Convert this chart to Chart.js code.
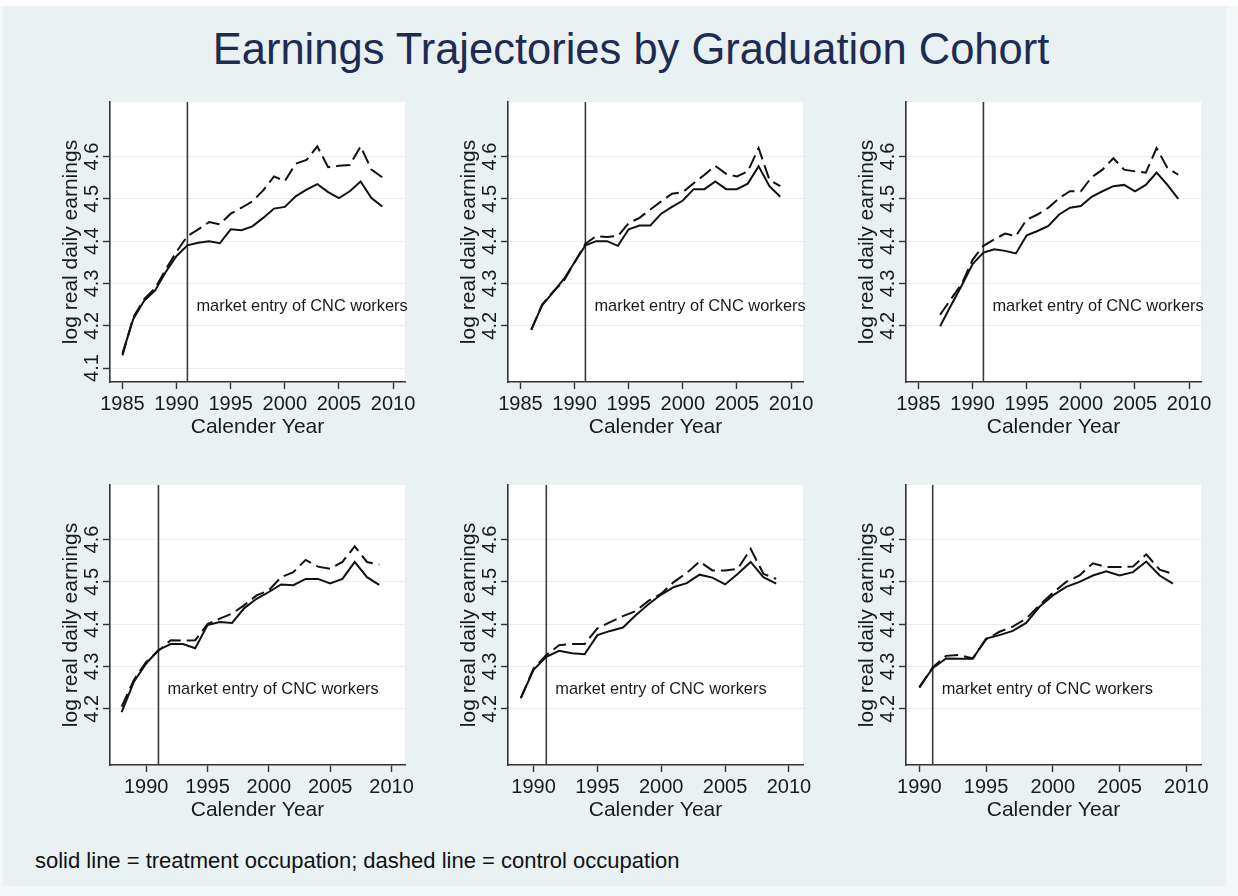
<!DOCTYPE html>
<html>
<head>
<meta charset="utf-8">
<script src="https://cdn.jsdelivr.net/npm/chart.js@4.4.0/dist/chart.umd.min.js"></script>
<style>
  html, body { margin: 0; padding: 0; background: #ffffff; }
  #page { position: relative; width: 1238px; height: 896px; overflow: hidden; background: #f3f7f8; }
  #frame { position: absolute; left: 3px; top: 6px; width: 1223px; height: 880px; background: #e9f1f3; }
  #topstrip { position: absolute; left: 0; top: 0; width: 1238px; height: 6px; background: #ffffff; }
  .panel { position: absolute; }
  #title { position: absolute; left: 0; top: 25px; width: 1262px; text-align: center;
           font-family: "Liberation Sans", Arial, sans-serif; font-size: 43.5px; color: #1e2b52; white-space: nowrap; }
  #note { position: absolute; left: 35px; top: 848px; font-family: "Liberation Sans", Arial, sans-serif;
          font-size: 22px; color: #111; white-space: nowrap; }
</style>
</head>
<body>
<div id="page">
  <div id="topstrip"></div>
  <div id="frame"></div>
  <div id="title">Earnings Trajectories by Graduation Cohort</div>
  <canvas id="c1" class="panel" width="363" height="350" style="left:58px;top:92px"></canvas>
  <canvas id="c2" class="panel" width="363" height="350" style="left:456px;top:92px"></canvas>
  <canvas id="c3" class="panel" width="363" height="350" style="left:854px;top:92px"></canvas>
  <canvas id="c4" class="panel" width="363" height="350" style="left:58px;top:475px"></canvas>
  <canvas id="c5" class="panel" width="363" height="350" style="left:456px;top:475px"></canvas>
  <canvas id="c6" class="panel" width="363" height="350" style="left:854px;top:475px"></canvas>
  <div id="note">solid line = treatment occupation; dashed line = control occupation</div>
</div>
<script>
// cohort data: year, treatment (solid), control (dashed)
const years1 = [1985, 1986, 1987, 1988, 1989, 1990, 1991, 1992, 1993, 1994, 1995, 1996, 1997, 1998, 1999, 2000, 2001, 2002, 2003, 2004, 2005, 2006, 2007, 2008, 2009];
const treat1 = [4.134, 4.216, 4.259, 4.283, 4.327, 4.365, 4.39, 4.396, 4.40, 4.395, 4.428, 4.426, 4.435, 4.455, 4.477, 4.481, 4.506, 4.522, 4.535, 4.516, 4.502, 4.518, 4.541, 4.502, 4.482];
const ctrl1 = [4.13, 4.22, 4.263, 4.288, 4.333, 4.375, 4.412, 4.428, 4.445, 4.44, 4.465, 4.479, 4.494, 4.52, 4.553, 4.542, 4.583, 4.592, 4.624, 4.575, 4.578, 4.58, 4.624, 4.569, 4.551];

const years2 = [1986, 1987, 1988, 1989, 1990, 1991, 1992, 1993, 1994, 1995, 1996, 1997, 1998, 1999, 2000, 2001, 2002, 2003, 2004, 2005, 2006, 2007, 2008, 2009];
const treat2 = [4.191, 4.248, 4.279, 4.31, 4.35, 4.39, 4.40, 4.40, 4.389, 4.428, 4.437, 4.437, 4.465, 4.481, 4.496, 4.523, 4.523, 4.541, 4.523, 4.523, 4.536, 4.577, 4.53, 4.505];
const ctrl2 = [4.19, 4.25, 4.28, 4.306, 4.35, 4.394, 4.412, 4.41, 4.412, 4.443, 4.455, 4.475, 4.494, 4.512, 4.516, 4.537, 4.557, 4.578, 4.559, 4.553, 4.565, 4.62, 4.545, 4.53];

const years3 = [1987, 1988, 1989, 1990, 1991, 1992, 1993, 1994, 1995, 1996, 1997, 1998, 1999, 2000, 2001, 2002, 2003, 2004, 2005, 2006, 2007, 2008, 2009];
const treat3 = [4.199, 4.248, 4.295, 4.346, 4.373, 4.381, 4.377, 4.371, 4.414, 4.424, 4.436, 4.463, 4.479, 4.483, 4.505, 4.518, 4.53, 4.533, 4.518, 4.533, 4.562, 4.533, 4.5];
const ctrl3 = [4.226, 4.263, 4.299, 4.356, 4.389, 4.404, 4.418, 4.412, 4.451, 4.463, 4.479, 4.502, 4.518, 4.518, 4.551, 4.569, 4.596, 4.569, 4.565, 4.562, 4.62, 4.573, 4.557];

const years4 = [1988, 1989, 1990, 1991, 1992, 1993, 1994, 1995, 1996, 1997, 1998, 1999, 2000, 2001, 2002, 2003, 2004, 2005, 2006, 2007, 2008, 2009];
const treat4 = [4.192, 4.264, 4.307, 4.339, 4.353, 4.353, 4.343, 4.398, 4.405, 4.403, 4.438, 4.46, 4.476, 4.494, 4.492, 4.507, 4.507, 4.496, 4.507, 4.547, 4.511, 4.493];
const ctrl4 = [4.205, 4.268, 4.311, 4.337, 4.362, 4.361, 4.362, 4.4, 4.413, 4.425, 4.445, 4.468, 4.48, 4.511, 4.523, 4.552, 4.536, 4.531, 4.547, 4.584, 4.547, 4.541];

const years5 = [1989, 1990, 1991, 1992, 1993, 1994, 1995, 1996, 1997, 1998, 1999, 2000, 2001, 2002, 2003, 2004, 2005, 2006, 2007, 2008, 2009];
const treat5 = [4.225, 4.292, 4.323, 4.337, 4.331, 4.329, 4.374, 4.384, 4.392, 4.421, 4.447, 4.47, 4.488, 4.497, 4.517, 4.51, 4.494, 4.519, 4.547, 4.511, 4.496];
const ctrl5 = [4.225, 4.295, 4.327, 4.35, 4.353, 4.353, 4.39, 4.405, 4.419, 4.431, 4.455, 4.472, 4.5, 4.521, 4.548, 4.527, 4.527, 4.531, 4.578, 4.519, 4.507];

const years6 = [1990, 1991, 1992, 1993, 1994, 1995, 1996, 1997, 1998, 1999, 2000, 2001, 2002, 2003, 2004, 2005, 2006, 2007, 2008, 2009];
const treat6 = [4.251, 4.296, 4.319, 4.318, 4.318, 4.366, 4.374, 4.384, 4.403, 4.441, 4.468, 4.488, 4.5, 4.515, 4.525, 4.515, 4.523, 4.548, 4.515, 4.496];
const ctrl6 = [4.25, 4.298, 4.325, 4.327, 4.319, 4.364, 4.382, 4.394, 4.413, 4.445, 4.474, 4.5, 4.515, 4.544, 4.535, 4.535, 4.536, 4.565, 4.529, 4.519];

const xTicksTop = [1985, 1990, 1995, 2000, 2005, 2010];
const xTicksBottom = [1990, 1995, 2000, 2005, 2010];
const yTicksFirst = [4.1, 4.2, 4.3, 4.4, 4.5, 4.6];
const yTicksRest = [4.2, 4.3, 4.4, 4.5, 4.6];

const entryYear = 1991;
const entryLabel = "market entry of CNC workers";
const entryLabelY = 4.245;

const FONT = '"Liberation Sans", Arial, sans-serif';
const INK = "#1a1a1a";

const entryPlugin = {
  id: "entry",
  beforeDraw(chart) {
    const { ctx, chartArea: a } = chart;
    ctx.save();
    ctx.fillStyle = "#ffffff";
    ctx.fillRect(a.left, a.top, a.right - a.left, a.bottom - a.top);
    ctx.restore();
  },
  beforeDatasetsDraw(chart) {
    const { ctx, chartArea: a, scales } = chart;
    const px = scales.x.getPixelForValue(entryYear);
    ctx.save();
    ctx.strokeStyle = "#3a3a3a";
    ctx.lineWidth = 1.6;
    ctx.beginPath();
    ctx.moveTo(px, a.top);
    ctx.lineTo(px, a.bottom);
    ctx.stroke();
    ctx.fillStyle = INK;
    ctx.font = "16.4px " + FONT;
    ctx.textBaseline = "middle";
    ctx.fillText(entryLabel, px + 9, scales.y.getPixelForValue(entryLabelY));
    ctx.restore();
  }
};

function panel(id, years, treat, ctrl, xMin, xTicks, yTicks) {
  const pts = (vals) => years.map((yr, i) => ({ x: yr, y: vals[i] }));
  new Chart(document.getElementById(id), {
    type: "line",
    data: {
      datasets: [
        { data: pts(treat), borderColor: "#111", borderWidth: 2, pointRadius: 0, tension: 0 },
        { data: pts(ctrl), borderColor: "#111", borderWidth: 2, borderDash: [14, 6], pointRadius: 0, tension: 0 }
      ]
    },
    options: {
      responsive: false,
      animation: false,
      events: [],
      layout: { padding: { top: 10, right: 16, left: 0, bottom: 0 } },
      plugins: { legend: { display: false }, tooltip: { enabled: false } },
      scales: {
        x: {
          type: "linear",
          min: xMin,
          max: 2011.1,
          afterBuildTicks: (s) => { s.ticks = xTicks.map((v) => ({ value: v })); },
          afterFit: (s) => { s.height = 60; },
          ticks: { font: { size: 20, family: FONT }, color: INK, padding: 3, maxRotation: 0, callback: (v) => String(v) },
          grid: { drawOnChartArea: false, tickLength: 7, tickColor: "#333", tickWidth: 1.4 },
          border: { color: "#333", width: 1.6 },
          title: { display: true, text: "Calender Year", color: INK, font: { size: 21, family: FONT }, padding: { top: 0, bottom: 2 } }
        },
        y: {
          min: 4.067,
          max: 4.729,
          afterBuildTicks: (s) => { s.ticks = yTicks.map((v) => ({ value: v })); },
          afterFit: (s) => { s.width = 52; },
          ticks: { font: { size: 20, family: FONT }, color: INK, minRotation: 90, maxRotation: 90, crossAlign: "center", padding: -3, callback: (v) => v.toFixed(1) },
          grid: { color: "#ebebeb", lineWidth: 1, tickLength: 7, tickColor: "#333", tickWidth: 1.4 },
          border: { color: "#333", width: 1.6 },
          title: { display: true, text: "log real daily earnings", color: INK, font: { size: 21, family: FONT }, padding: { top: 1, bottom: 0 } }
        }
      }
    },
    plugins: [entryPlugin]
  });
}

panel("c1", years1, treat1, ctrl1, 1983.85, xTicksTop, yTicksFirst);
panel("c2", years2, treat2, ctrl2, 1983.85, xTicksTop, yTicksRest);
panel("c3", years3, treat3, ctrl3, 1983.85, xTicksTop, yTicksRest);
panel("c4", years4, treat4, ctrl4, 1987.05, xTicksBottom, yTicksRest);
panel("c5", years5, treat5, ctrl5, 1988.0, xTicksBottom, yTicksRest);
panel("c6", years6, treat6, ctrl6, 1989.0, xTicksBottom, yTicksRest);
</script>
</body>
</html>
